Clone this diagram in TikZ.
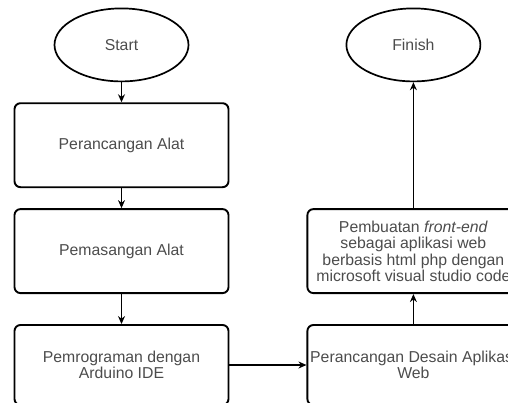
\documentclass[tikz,border=0pt]{standalone}
\usepackage{fontspec}
\setmainfont{Liberation Sans}
\usetikzlibrary{arrows.meta,shapes.geometric,matrix}

\begin{document}
\begin{tikzpicture}[->,>={Stealth[length=8pt,width=7pt]}
  ,x=1pt,y=-1pt
  ,line width=1.1pt,
  font=\fontsize{15.8}{16.5}\selectfont]
  \tikzstyle{term}
  =[ellipse,draw,line width=1.7pt,minimum width=134pt,minimum height=73pt,text=black!70]
  \tikzstyle{proc}
  =[rectangle,draw,rounded corners=6pt,line width=1.9pt,align=center,
    minimum width=214pt,minimum height=84pt,text=black!70]

  \useasboundingbox (0,0) rectangle (508,402);
  \clip (0,0) rectangle (508,402);

  \matrix (m) at (13,7) [matrix anchor=north west,inner sep=0pt
  ,row sep=20pt,column sep=77pt] {
    \node[term](start) {Start}; & \node[term](finish) {Finish}; \\
    \node[proc](alat) {Perancangan Alat}; & \\
    \node[proc](pasang) {Pemasangan Alat}; &
    \node[proc,minimum width=212pt](web) {Pembuatan \textit{front-end}\\
      sebagai aplikasi web\\ berbasis html php dengan\\
      microsoft visual studio code}; \\[10pt]
    \node[proc,minimum height=80pt](prog) {Pemrograman dengan\\ Arduino IDE}; &
    \node[proc,minimum width=212pt,minimum height=80pt](desain)
      {Perancangan Desain Aplikasi\\ Web}; \\
  };

  \path
  (start)  edge (alat)
  (alat)   edge (pasang)
  (pasang) edge (prog)
  (prog)   edge (desain)
  (desain) edge (web)
  (web)    edge (finish)
  ;

\end{tikzpicture}
\end{document}
